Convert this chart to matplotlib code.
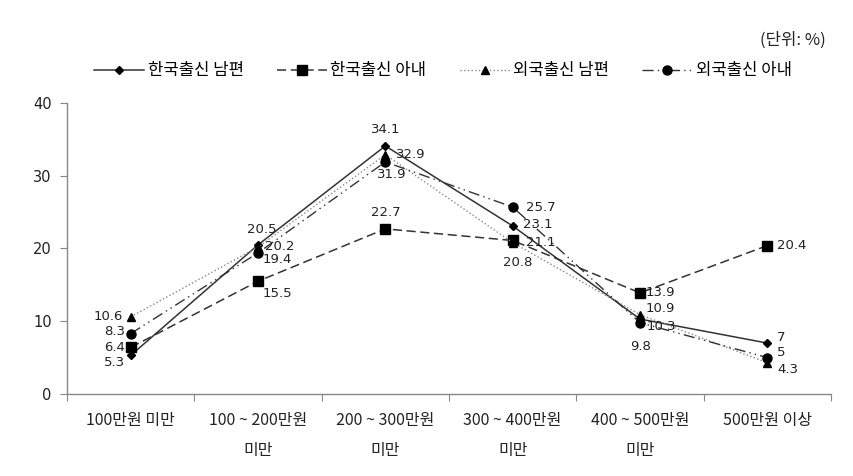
import numpy as np
import matplotlib
matplotlib.use('Agg')
import matplotlib.pyplot as plt
from matplotlib.ticker import FixedLocator, NullFormatter, FixedFormatter

plt.rcParams['font.family'] = ['Noto Sans CJK KR', 'DejaVu Sans']

# data
categories = ['100만원 미만', '100 ~ 200만원\n미만', '200 ~ 300만원\n미만',
              '300 ~ 400만원\n미만', '400 ~ 500만원\n미만', '500만원 이상']
series_names = ['한국출신 남편', '한국출신 아내', '외국출신 남편', '외국출신 아내']
kor_husband = [5.3, 20.5, 34.1, 23.1, 10.3, 7]
kor_wife = [6.4, 15.5, 22.7, 21.1, 13.9, 20.4]
for_husband = [10.6, 20.2, 32.9, 20.8, 10.9, 4.3]
for_wife = [8.3, 19.4, 31.9, 25.7, 9.8, 5]
y_ticks = [0, 10, 20, 30, 40]

# styles
styles = [
    dict(color='#333333', ls='-', marker='D', ms=4, lw=1.1),
    dict(color='#333333', ls=(0, (6, 3)), marker='s', ms=6.5, lw=1.1),
    dict(color='#888888', ls=':', marker='^', ms=6, lw=1.0),
    dict(color='#333333', ls=(0, (8, 3, 1, 3, 1, 3)), marker='o', ms=6.5, lw=1.0),
]

# label offsets in pixels (dx, dy-up) and horizontal alignment
offsets = [
    [(-6, -7, 'right'), (4, 15, 'center'), (0, 16, 'center'), (10, 1, 'left'), (7, -7, 'left'), (10, 6, 'left')],
    [(-6, 0, 'right'), (5, -12, 'left'), (0, 16, 'center'), (13, -2, 'left'), (6, 0, 'left'), (10, 0, 'left')],
    [(-8, 0, 'right'), (7, 1, 'left'), (11, 0, 'left'), (5, -20, 'center'), (6, 6, 'left'), (10, -7, 'left')],
    [(-6, 2, 'right'), (5, -7, 'left'), (6, -13, 'center'), (13, 0, 'left'), (1, -24, 'center'), (10, 5, 'left')],
]
num_font = ['DejaVu Sans']

fig = plt.figure(figsize=(8.54, 4.76), dpi=100)
ax = fig.add_axes([67 / 854, 82 / 476, 764 / 854, 291 / 476])

x = np.arange(len(categories))
all_series = [kor_husband, kor_wife, for_husband, for_wife]
handles = []
for vals, name, st, offs in zip(all_series, series_names, styles, offsets):
    h, = ax.plot(x, vals, color=st['color'], linestyle=st['ls'], marker=st['marker'],
                 markersize=st['ms'], linewidth=st['lw'], markerfacecolor='black',
                 markeredgecolor='black', label=name)
    handles.append(h)
    for xi, v, (dx, dy, ha) in zip(x, vals, offs):
        ax.annotate(f'{v:g}', (xi, v), xytext=(dx, dy), textcoords='offset pixels',
                    ha=ha, va='center', fontsize=9.5, color='#222222', family=num_font)

ax.set_xlim(-0.5, len(categories) - 0.5)
ax.set_ylim(0, 40)
ax.yaxis.set_major_locator(FixedLocator(y_ticks))
ax.set_yticklabels([str(t) for t in y_ticks], fontsize=10.5, color='#222222', family=num_font)

# ticks on category boundaries, labels at centers
ax.xaxis.set_major_locator(FixedLocator(np.arange(-0.5, len(categories), 1.0)))
ax.xaxis.set_major_formatter(NullFormatter())
ax.xaxis.set_minor_locator(FixedLocator(x))
ax.xaxis.set_minor_formatter(FixedFormatter(categories))
ax.tick_params(axis='x', which='minor', length=0, pad=13, labelsize=11.5, labelcolor='#222222')
for lbl in ax.xaxis.get_minorticklabels():
    lbl.set_linespacing(2.0)
    lbl.set_verticalalignment('top')
ax.tick_params(axis='x', which='major', length=5, color='#888888')
ax.tick_params(axis='y', length=5, color='#888888', pad=6)

for s in ['top', 'right']:
    ax.spines[s].set_visible(False)
for s in ['left', 'bottom']:
    ax.spines[s].set_color('#888888')
    ax.spines[s].set_linewidth(1.0)

fig.legend(handles=handles, loc='center', bbox_to_anchor=(443 / 854, 1 - 71 / 476),
           ncol=4, frameon=False, fontsize=12, handlelength=3.0, handletextpad=0.2,
           columnspacing=2.0)

fig.text(826 / 854, 1 - 40 / 476, '(단위: %)', ha='right', va='center', fontsize=12,
         color='#222222')

fig.savefig('out.png', dpi=100)
